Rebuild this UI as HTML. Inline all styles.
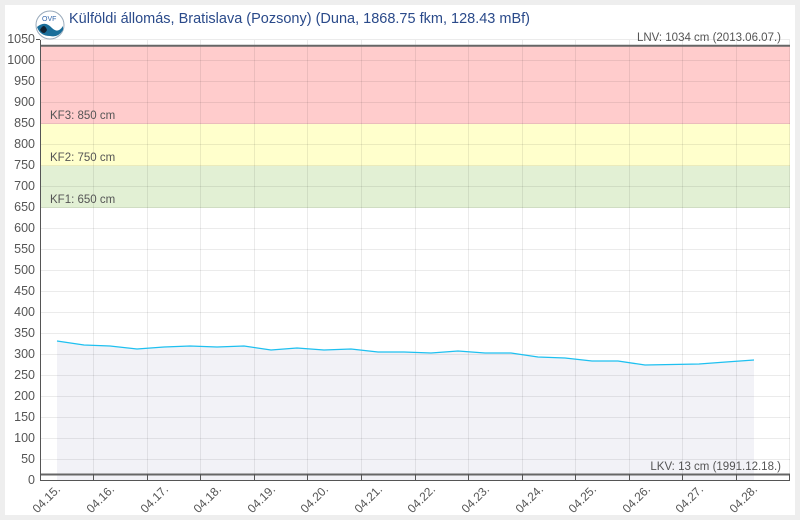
<!DOCTYPE html>
<html><head><meta charset="utf-8"><style>
body{margin:0;background:#eeeeee;width:800px;height:520px;overflow:hidden}
svg{position:absolute;left:0;top:0}
text{font-family:"Liberation Sans",sans-serif}
</style></head><body>
<svg width="800" height="520" xmlns="http://www.w3.org/2000/svg">
<rect x="5" y="5" width="790" height="510" fill="#fff"/>
<!-- bands -->
<rect x="40.5" y="45.7" width="749.5" height="78.3" fill="#ffcccc"/>
<rect x="40.5" y="124" width="749.5" height="42" fill="#ffffcc"/>
<rect x="40.5" y="166" width="749.5" height="42" fill="#e2f0d4"/>
<!-- grid -->
<g stroke="#000" stroke-opacity="0.08" stroke-width="1">
<line x1="40" x2="790" y1="459.5" y2="459.5"/><line x1="40" x2="790" y1="438.5" y2="438.5"/><line x1="40" x2="790" y1="417.5" y2="417.5"/><line x1="40" x2="790" y1="396.5" y2="396.5"/><line x1="40" x2="790" y1="375.5" y2="375.5"/><line x1="40" x2="790" y1="354.5" y2="354.5"/><line x1="40" x2="790" y1="333.5" y2="333.5"/><line x1="40" x2="790" y1="312.5" y2="312.5"/><line x1="40" x2="790" y1="291.5" y2="291.5"/><line x1="40" x2="790" y1="270.5" y2="270.5"/><line x1="40" x2="790" y1="249.5" y2="249.5"/><line x1="40" x2="790" y1="228.5" y2="228.5"/><line x1="40" x2="790" y1="207.5" y2="207.5"/><line x1="40" x2="790" y1="186.5" y2="186.5"/><line x1="40" x2="790" y1="165.5" y2="165.5"/><line x1="40" x2="790" y1="144.5" y2="144.5"/><line x1="40" x2="790" y1="123.5" y2="123.5"/><line x1="40" x2="790" y1="102.5" y2="102.5"/><line x1="40" x2="790" y1="81.5" y2="81.5"/><line x1="40" x2="790" y1="60.5" y2="60.5"/><line x1="40" x2="790" y1="39.5" y2="39.5"/>
<line y1="40" y2="480" x1="93.5" x2="93.5"/><line y1="40" y2="480" x1="147.5" x2="147.5"/><line y1="40" y2="480" x1="200.5" x2="200.5"/><line y1="40" y2="480" x1="254.5" x2="254.5"/><line y1="40" y2="480" x1="307.5" x2="307.5"/><line y1="40" y2="480" x1="361.5" x2="361.5"/><line y1="40" y2="480" x1="415.5" x2="415.5"/><line y1="40" y2="480" x1="468.5" x2="468.5"/><line y1="40" y2="480" x1="522.5" x2="522.5"/><line y1="40" y2="480" x1="575.5" x2="575.5"/><line y1="40" y2="480" x1="629.5" x2="629.5"/><line y1="40" y2="480" x1="682.5" x2="682.5"/><line y1="40" y2="480" x1="736.5" x2="736.5"/><line y1="40" y2="480" x1="789.5" x2="789.5"/>
</g>
<!-- area & line -->
<polygon fill="#1e2a78" fill-opacity="0.06" points="57,341 84,345 110,346 137,349 164,347 190,346 217,347 244,346 271,350 297,348 324,350 351,349 378,352 404,352 431,353 458,351 485,353 511,353 538,357 565,358 592,361 618,361 645,365 672,364.5 699,364 726,362 754,360 754,480 57,480"/>
<polyline fill="none" stroke="#1ec0f0" stroke-width="1.3" points="57,341 84,345 110,346 137,349 164,347 190,346 217,347 244,346 271,350 297,348 324,350 351,349 378,352 404,352 431,353 458,351 485,353 511,353 538,357 565,358 592,361 618,361 645,365 672,364.5 699,364 726,362 754,360"/>
<!-- LNV / LKV lines -->
<line x1="40" x2="790" y1="45.8" y2="45.8" stroke="#666" stroke-width="2"/>
<line x1="40" x2="790" y1="474.5" y2="474.5" stroke="#666" stroke-width="2"/>
<!-- axes -->
<line x1="40.5" x2="40.5" y1="40" y2="480.5" stroke="#555" stroke-width="1"/>
<line x1="40" x2="790" y1="480.5" y2="480.5" stroke="#555" stroke-width="1"/>
<g stroke="#555"><line x1="36" x2="40" y1="39.5" y2="39.5"/>
<line x1="93.5" x2="93.5" y1="474" y2="480"/><line x1="147.5" x2="147.5" y1="474" y2="480"/><line x1="200.5" x2="200.5" y1="474" y2="480"/><line x1="254.5" x2="254.5" y1="474" y2="480"/><line x1="307.5" x2="307.5" y1="474" y2="480"/><line x1="361.5" x2="361.5" y1="474" y2="480"/><line x1="415.5" x2="415.5" y1="474" y2="480"/><line x1="468.5" x2="468.5" y1="474" y2="480"/><line x1="522.5" x2="522.5" y1="474" y2="480"/><line x1="575.5" x2="575.5" y1="474" y2="480"/><line x1="629.5" x2="629.5" y1="474" y2="480"/><line x1="682.5" x2="682.5" y1="474" y2="480"/><line x1="736.5" x2="736.5" y1="474" y2="480"/><line x1="789.5" x2="789.5" y1="474" y2="480"/></g>
<!-- y labels -->
<g font-size="12.5" fill="#555" text-anchor="end">
<text x="35" y="484">0</text><text x="35" y="463">50</text><text x="35" y="442">100</text><text x="35" y="421">150</text><text x="35" y="400">200</text><text x="35" y="379">250</text><text x="35" y="358">300</text><text x="35" y="337">350</text><text x="35" y="316">400</text><text x="35" y="295">450</text><text x="35" y="274">500</text><text x="35" y="253">550</text><text x="35" y="232">600</text><text x="35" y="211">650</text><text x="35" y="190">700</text><text x="35" y="169">750</text><text x="35" y="148">800</text><text x="35" y="127">850</text><text x="35" y="106">900</text><text x="35" y="85">950</text><text x="35" y="64">1000</text><text x="35" y="43">1050</text>
</g>
<!-- band labels -->
<g font-size="11.5" fill="#555">
<text x="50" y="119">KF3: 850 cm</text><text x="50" y="161">KF2: 750 cm</text><text x="50" y="203">KF1: 650 cm</text>
<text x="781" y="41" text-anchor="end">LNV: 1034 cm (2013.06.07.)</text>
<text x="781" y="470" text-anchor="end">LKV: 13 cm (1991.12.18.)</text>
</g>
<!-- x labels -->
<g font-size="12" fill="#555" text-anchor="end">
<text transform="translate(61,490) rotate(-45)">04.15.</text>
<text transform="translate(115,490) rotate(-45)">04.16.</text>
<text transform="translate(169,490) rotate(-45)">04.17.</text>
<text transform="translate(222,490) rotate(-45)">04.18.</text>
<text transform="translate(276,490) rotate(-45)">04.19.</text>
<text transform="translate(329,490) rotate(-45)">04.20.</text>
<text transform="translate(383,490) rotate(-45)">04.21.</text>
<text transform="translate(436,490) rotate(-45)">04.22.</text>
<text transform="translate(490,490) rotate(-45)">04.23.</text>
<text transform="translate(544,490) rotate(-45)">04.24.</text>
<text transform="translate(597,490) rotate(-45)">04.25.</text>
<text transform="translate(651,490) rotate(-45)">04.26.</text>
<text transform="translate(704,490) rotate(-45)">04.27.</text>
<text transform="translate(758,490) rotate(-45)">04.28.</text>
</g>
<!-- logo -->
<circle cx="50" cy="25" r="14" fill="#fff" stroke="#9ab" stroke-width="1"/>
<path d="M37,27 Q45,20 52,28 Q58,34 63,26 L63,30 Q58,38 50,36 Q40,36 37,27Z" fill="#1a6e9a"/>
<path d="M40,30 Q44,22 47,30 Q44,36 40,30Z" fill="#123"/>
<text x="42" y="21" font-size="7" fill="#36a">OVF</text>
<text x="69" y="23" font-size="14.5" fill="#2a4a8a">Külföldi állomás, Bratislava (Pozsony) (Duna, 1868.75 fkm, 128.43 mBf)</text>
</svg>
</body></html>
